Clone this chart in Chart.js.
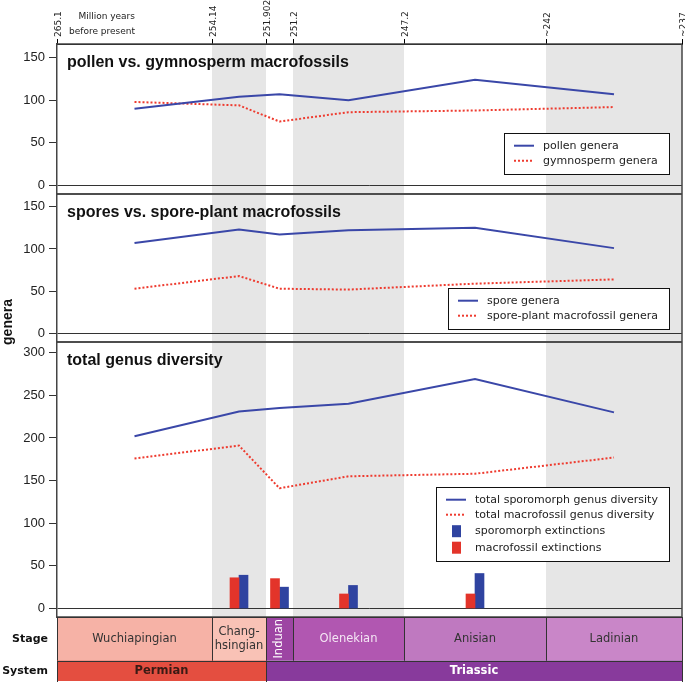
<!DOCTYPE html>
<html>
<head>
<meta charset="utf-8">
<title>Permian-Triassic plant diversity</title>
<script src="https://cdn.jsdelivr.net/npm/chart.js@4.4.1/dist/chart.umd.min.js"></script>
<style>
  html, body { margin: 0; padding: 0; background: #fff; }
  #wrap { position: relative; width: 685px; height: 682px; }
</style>
</head>
<body>
<div id="wrap"><canvas id="myChart" width="685" height="682"></canvas></div>
<script>
// stage boundaries, Ma (oldest first)
var boundaries = [265.1, 254.14, 251.902, 251.2, 247.2, 242, 237];
var boundaryLabels = ['265.1', '254.14', '251.902', '251.2', '247.2', '~242', '~237'];
var stages = ['Wuchiapingian', 'Chang-\nhsingian', 'Induan', 'Olenekian', 'Anisian', 'Ladinian'];
var systems = ['Permian', 'Triassic'];
var systemBounds = [265.1, 251.902, 237];

// genus counts per stage
var pollenGenera = [90, 104, 107, 100, 124, 107];
var gymnospermGenera = [98, 94, 75, 86, 88, 92];
var sporeGenera = [107, 123, 117, 122, 125, 101];
var sporePlantGenera = [53, 68, 53, 52, 59, 64];
var totalSporomorph = [202, 231, 235, 240, 269, 230];
var totalMacrofossil = [176, 191, 141, 155, 158, 177];
var sporomorphExtinctions = [null, 39, 25, 27, 41, null];
var macrofossilExtinctions = [null, 36, 35, 17, 17, null];

var smallTicks = [0, 50, 100, 150];
var totalTicks = [0, 50, 100, 150, 200, 250, 300];

var stageMid = stages.map(function (s, i) {
    return (boundaries[i] + boundaries[i + 1]) / 2;
});

function pts(vals) {
    return vals.map(function (v, i) {
        return { x: stageMid[i], y: v };
    });
}

// x axis is not linear in time: every stage gets its own share of the width
class StageScale extends Chart.LinearScale {
    getPixelForValue(value) {
        var b = this.options.breaks, f = this.options.fractions;
        var i = 0;
        while (i < b.length - 2 && value < b[i + 1]) i++;
        var t = (b[i] - value) / (b[i] - b[i + 1]);
        return this.left + (f[i] + t * (f[i + 1] - f[i])) * this.width;
    }
    getValueForPixel(pixel) {
        var b = this.options.breaks, f = this.options.fractions;
        var d = (pixel - this.left) / this.width;
        var i = 0;
        while (i < f.length - 2 && d > f[i + 1]) i++;
        var t = (d - f[i]) / (f[i + 1] - f[i]);
        return b[i] - t * (b[i] - b[i + 1]);
    }
}
StageScale.id = 'stage';
StageScale.defaults = Chart.LinearScale.defaults;
Chart.register(StageScale);

var BLUE = '#3a47a8';
var RED = '#ee3b2f';
var SANS = "'Liberation Sans', Arial, sans-serif";
var DEJAVU = "'DejaVu Sans', sans-serif";

var panels = [
    { axis: 'yPollen', title: 'pollen vs. gymnosperm macrofossils', items: [0, 1], legendBottom: 20 },
    { axis: 'ySpore', title: 'spores vs. spore-plant macrofossils', items: [2, 3], legendBottom: 13 },
    { axis: 'yTotal', title: 'total genus diversity', items: [4, 5, 7, 6], legendBottom: 56 }
];

function drawLegend(chart, p) {
    var ctx = chart.ctx, a = chart.chartArea, scale = chart.scales[p.axis];
    var items = p.items.map(function (i) { return chart.data.datasets[i]; });
    ctx.save();
    ctx.font = '11px ' + DEJAVU;
    var tw = 0;
    items.forEach(function (d) { tw = Math.max(tw, ctx.measureText(d.label).width); });
    var rows = [], y = 12.7;
    items.forEach(function (d, k) {
        if (k > 0) y += d.type === 'bar' ? 16.5 : 15;
        rows.push(y);
    });
    var w = Math.round(39 + tw + 11), h = Math.round(y + 13.3);
    var right = Math.round(a.right - 13), bottom = Math.round(scale.bottom - p.legendBottom);
    var left = right - w, top = bottom - h;
    ctx.fillStyle = '#fff';
    ctx.fillRect(left, top, w, h);
    ctx.strokeStyle = '#111';
    ctx.lineWidth = 1;
    ctx.strokeRect(left + 0.5, top + 0.5, w, h);
    items.forEach(function (d, k) {
        var cy = top + rows[k];
        if (d.type === 'bar') {
            ctx.fillStyle = d.backgroundColor;
            ctx.fillRect(left + 16, cy - 6, 9, 12);
        } else {
            ctx.strokeStyle = d.borderColor;
            ctx.lineWidth = d.borderWidth;
            ctx.setLineDash(d.borderDash || []);
            ctx.beginPath();
            ctx.moveTo(left + 10, cy);
            ctx.lineTo(left + 30, cy);
            ctx.stroke();
            ctx.setLineDash([]);
        }
        ctx.fillStyle = '#222';
        ctx.textBaseline = 'middle';
        ctx.textAlign = 'left';
        ctx.fillText(d.label, left + 39, cy);
    });
    ctx.restore();
}

function drawTimescale(chart) {
    var ctx = chart.ctx, a = chart.chartArea, xs = chart.scales.x;
    var stageFill = ['#f6b2a6', '#f9c2b6', '#9d45a3', '#b157b1', '#bf79c0', '#c986c8'];
    var stageInk = ['#333', '#333', '#fff', '#f4e6f4', '#333', '#333'];
    var sysFill = ['#e44e40', '#883a9c'];
    var sysInk = ['#3a1a14', '#fff'];
    var top = a.bottom, mid = top + 43.5, bot = mid + 20.5;
    ctx.save();
    ctx.lineWidth = 1;
    ctx.strokeStyle = '#333';
    stages.forEach(function (name, i) {
        var x0 = xs.getPixelForValue(boundaries[i]), x1 = xs.getPixelForValue(boundaries[i + 1]);
        ctx.fillStyle = stageFill[i];
        ctx.fillRect(x0, top, x1 - x0, mid - top);
        ctx.strokeRect(Math.round(x0) + 0.5, Math.round(top) + 0.5, Math.round(x1 - x0), Math.round(mid - top));
        var cx = (x0 + x1) / 2, cy = (top + mid) / 2;
        ctx.fillStyle = stageInk[i];
        ctx.font = '11.5px ' + DEJAVU;
        ctx.textAlign = 'center';
        ctx.textBaseline = 'middle';
        if (name === 'Induan') {
            ctx.save();
            ctx.translate(cx, cy);
            ctx.rotate(-Math.PI / 2);
            ctx.fillText(name, 0, 0);
            ctx.restore();
        } else {
            var lines = name.split('\n');
            lines.forEach(function (ln, k) {
                ctx.fillText(ln, cx, cy + (k - (lines.length - 1) / 2) * 14);
            });
        }
    });
    systems.forEach(function (name, i) {
        var x0 = xs.getPixelForValue(systemBounds[i]), x1 = xs.getPixelForValue(systemBounds[i + 1]);
        ctx.fillStyle = sysFill[i];
        ctx.fillRect(x0, mid, x1 - x0, bot - mid);
        ctx.strokeRect(Math.round(x0) + 0.5, Math.round(mid) + 0.5, Math.round(x1 - x0), Math.round(bot - mid));
        ctx.fillStyle = sysInk[i];
        ctx.font = 'bold 11.5px ' + DEJAVU;
        ctx.textAlign = 'center';
        ctx.textBaseline = 'middle';
        ctx.fillText(name, (x0 + x1) / 2, (mid + bot) / 2);
    });
    ctx.fillStyle = '#111';
    ctx.font = 'bold 11px ' + DEJAVU;
    ctx.textAlign = 'right';
    ctx.fillText('Stage', 48, (top + mid) / 2);
    ctx.fillText('System', 48, (mid + bot) / 2);

    ctx.font = '9px ' + DEJAVU;
    ctx.fillStyle = '#222';
    ctx.fillText('Million years', 135, 17);
    ctx.fillText('before present', 135, 32);

    ctx.translate(8.5, 322);
    ctx.rotate(-Math.PI / 2);
    ctx.textAlign = 'center';
    ctx.font = 'bold 14px ' + SANS;
    ctx.fillStyle = '#111';
    ctx.fillText('genera', 0, 0);
    ctx.restore();
}

var panelPlugin = {
    id: 'panels',
    beforeDraw: function (chart) {
        var ctx = chart.ctx, a = chart.chartArea, xs = chart.scales.x;
        ctx.save();
        ctx.fillStyle = '#e6e6e6';
        stages.forEach(function (s, i) {
            if (i % 2 === 1) {
                var x0 = xs.getPixelForValue(boundaries[i]), x1 = xs.getPixelForValue(boundaries[i + 1]);
                ctx.fillRect(x0, a.top, x1 - x0, a.bottom - a.top);
            }
        });
        ctx.restore();
    },
    afterDatasetsDraw: function (chart) {
        var ctx = chart.ctx, a = chart.chartArea;
        ctx.save();
        ctx.strokeStyle = '#444';
        ctx.lineWidth = 1.5;
        panels.forEach(function (p) {
            var s = chart.scales[p.axis];
            ctx.beginPath();
            ctx.moveTo(a.left, s.top);
            ctx.lineTo(a.right, s.top);
            ctx.moveTo(a.left, s.bottom);
            ctx.lineTo(a.right, s.bottom);
            ctx.stroke();
            ctx.fillStyle = '#111';
            ctx.font = 'bold 16px ' + SANS;
            ctx.textAlign = 'left';
            ctx.textBaseline = 'alphabetic';
            ctx.fillText(p.title, a.left + 10, s.top + 22.5);
        });
        ctx.beginPath();
        ctx.moveTo(a.right, a.top);
        ctx.lineTo(a.right, a.bottom);
        ctx.stroke();
        ctx.restore();
        panels.forEach(function (p) { drawLegend(chart, p); });
        drawTimescale(chart);
    }
};

function yAxis(weight, stackWeight, max, ticks) {
    return {
        type: 'linear',
        position: 'left',
        stack: 'panels',
        stackWeight: stackWeight,
        weight: weight,
        min: -10,
        max: max,
        afterBuildTicks: function (scale) {
            scale.ticks = ticks.map(function (v) { return { value: v }; });
        },
        afterFit: function (scale) { scale.width = 57; },
        ticks: { font: { family: SANS, size: 13 }, color: '#222', padding: 4 },
        grid: {
            color: function (c) { return c.tick && c.tick.value === 0 ? '#333' : 'rgba(0,0,0,0)'; },
            tickColor: '#333',
            tickLength: 8,
            lineWidth: 1
        },
        border: { display: true, color: '#444', width: 1.5 }
    };
}

var ctx = document.getElementById('myChart').getContext('2d');
var chart = new Chart(ctx, {
    type: 'line',
    data: {
        datasets: [
            { label: 'pollen genera', yAxisID: 'yPollen', data: pts(pollenGenera),
              borderColor: BLUE, borderWidth: 2, pointRadius: 0 },
            { label: 'gymnosperm genera', yAxisID: 'yPollen', data: pts(gymnospermGenera),
              borderColor: RED, borderWidth: 2, borderDash: [2, 2], pointRadius: 0 },
            { label: 'spore genera', yAxisID: 'ySpore', data: pts(sporeGenera),
              borderColor: BLUE, borderWidth: 2, pointRadius: 0 },
            { label: 'spore-plant macrofossil genera', yAxisID: 'ySpore', data: pts(sporePlantGenera),
              borderColor: RED, borderWidth: 2, borderDash: [2, 2], pointRadius: 0 },
            { label: 'total sporomorph genus diversity', yAxisID: 'yTotal', data: pts(totalSporomorph),
              borderColor: BLUE, borderWidth: 2, pointRadius: 0 },
            { label: 'total macrofossil genus diversity', yAxisID: 'yTotal', data: pts(totalMacrofossil),
              borderColor: RED, borderWidth: 2, borderDash: [2, 2], pointRadius: 0 },
            { type: 'bar', label: 'macrofossil extinctions', yAxisID: 'yTotal', data: pts(macrofossilExtinctions),
              backgroundColor: '#e3342a', barThickness: 9 },
            { type: 'bar', label: 'sporomorph extinctions', yAxisID: 'yTotal', data: pts(sporomorphExtinctions),
              backgroundColor: '#2f43a0', barThickness: 9 }
        ]
    },
    options: {
        responsive: false,
        animation: false,
        devicePixelRatio: 1,
        layout: { padding: { top: 0, right: 3, bottom: 65, left: 0 } },
        plugins: { legend: { display: false }, tooltip: { enabled: false } },
        scales: {
            x: {
                type: 'stage',
                position: 'top',
                offset: false,
                min: 237,
                max: 265.1,
                breaks: boundaries,
                fractions: [0, 0.248, 0.3344, 0.3776, 0.5552, 0.7824, 1],
                afterBuildTicks: function (scale) {
                    scale.ticks = boundaries.map(function (v) { return { value: v }; });
                },
                afterFit: function (scale) {
                    scale.height = 44;
                    scale.paddingLeft = 0;
                    scale.paddingRight = 0;
                },
                ticks: {
                    autoSkip: false,
                    minRotation: 90,
                    maxRotation: 90,
                    padding: 2,
                    labelOffset: 12,
                    color: '#222',
                    font: { family: DEJAVU, size: 9 },
                    callback: function (value, index) { return boundaryLabels[index]; }
                },
                grid: { offset: false, drawOnChartArea: false, color: '#000', tickLength: 5, lineWidth: 1 },
                border: { display: true, color: '#000', width: 1 }
            },
            yPollen: yAxis(3, 150, 166, smallTicks),
            ySpore: yAxis(2, 148, 165, smallTicks),
            yTotal: yAxis(1, 275, 312.5, totalTicks)
        }
    },
    plugins: [panelPlugin]
});
</script>
</body>
</html>
